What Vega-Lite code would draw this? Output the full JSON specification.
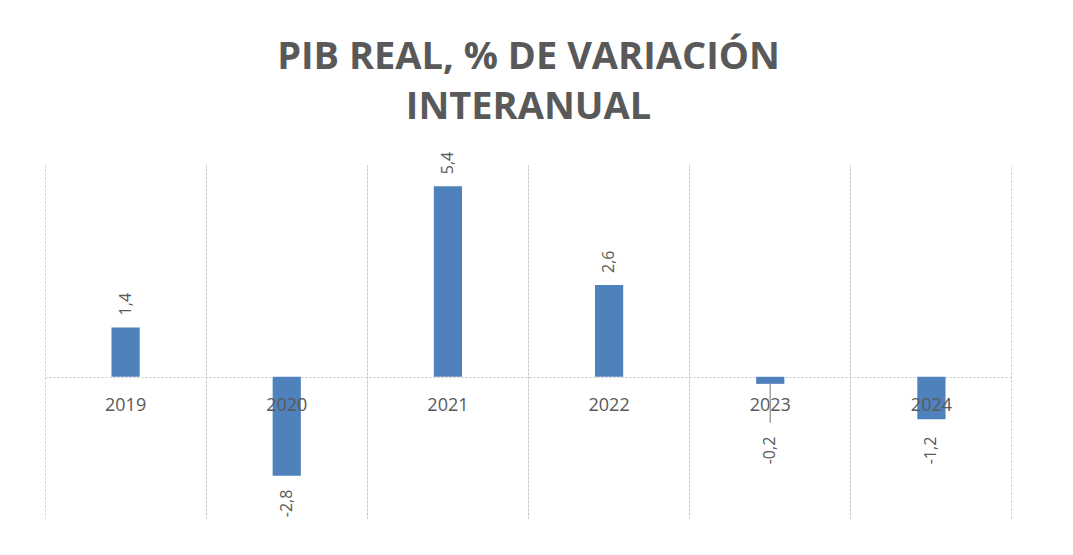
{
  "$schema": "https://vega.github.io/schema/vega-lite/v6.json",
  "width": 967,
  "height": 353,
  "padding": {"left": 45, "right": 61, "top": 38, "bottom": 37},
  "background": "white",
  "title": {
    "text": ["PIB REAL, % DE VARIACIÓN", "INTERANUAL"],
    "font": "Open Sans",
    "fontSize": 38,
    "fontWeight": "bold",
    "color": "#595959",
    "lineHeight": 50,
    "anchor": "middle",
    "offset": 25
  },
  "config": {"view": {"stroke": null}},
  "data": {
    "values": [
      {"year": "2019", "value": 1.4, "label": "1,4"},
      {"year": "2020", "value": -2.8, "label": "-2,8"},
      {"year": "2021", "value": 5.4, "label": "5,4"},
      {"year": "2022", "value": 2.6, "label": "2,6"},
      {"year": "2023", "value": -0.2, "label": "-0,2"},
      {"year": "2024", "value": -1.2, "label": "-1,2"}
    ]
  },
  "resolve": {"axis": {"x": "independent"}},
  "layer": [
    {
      "mark": {"type": "bar", "color": "#4F81BD", "width": {"band": 0.175}},
      "encoding": {
        "x": {"field": "year", "type": "nominal", "sort": null,
          "scale": {"paddingInner": 0, "paddingOuter": 0},
          "axis": {"orient": "bottom", "bandPosition": 0, "grid": true, "gridDash": [2, 2], "gridColor": "#C8C8C8", "gridWidth": 1, "labels": false, "ticks": false, "domain": false, "title": null}},
        "y": {"field": "value", "type": "quantitative",
          "scale": {"domain": [-4, 6], "nice": false, "zero": true},
          "axis": {"values": [0], "grid": true, "gridDash": [2, 2], "gridColor": "#C8C8C8", "gridWidth": 1, "labels": false, "ticks": false, "domain": false, "title": null}}
      }
    },
    {
      "mark": {"type": "text", "font": "Open Sans", "fontSize": 18, "color": "#595959", "dy": 29, "baseline": "middle"},
      "encoding": {
        "x": {"field": "year", "type": "nominal", "sort": null,
          "axis": {"orient": "top", "bandPosition": 1, "grid": true, "gridDash": [2, 2], "gridColor": "#C8C8C8", "gridWidth": 1, "labels": false, "ticks": false, "domain": false, "title": null}},
        "y": {"datum": 0, "type": "quantitative"},
        "text": {"field": "year"}
      }
    },
    {
      "transform": [{"filter": "datum.value >= 0"}],
      "mark": {"type": "text", "font": "Open Sans", "fontSize": 16, "color": "#595959", "angle": 270, "align": "left", "baseline": "middle", "dx": 12},
      "encoding": {
        "x": {"field": "year", "type": "nominal", "sort": null, "axis": null},
        "y": {"field": "value", "type": "quantitative"},
        "text": {"field": "label"}
      }
    },
    {
      "transform": [{"filter": "datum.value < 0 && datum.value > -1"}, {"calculate": "min(datum.value, -1.3)", "as": "labelY"}],
      "mark": {"type": "rule", "color": "#8C8C8C", "strokeWidth": 1.2},
      "encoding": {
        "x": {"field": "year", "type": "nominal", "sort": null, "axis": null},
        "y": {"field": "value", "type": "quantitative"},
        "y2": {"field": "labelY"}
      }
    },
    {
      "transform": [{"filter": "datum.value < 0"}, {"calculate": "min(datum.value, -1.3)", "as": "labelY"}],
      "mark": {"type": "text", "font": "Open Sans", "fontSize": 16, "color": "#595959", "angle": 270, "align": "right", "baseline": "middle", "dx": -14},
      "encoding": {
        "x": {"field": "year", "type": "nominal", "sort": null, "axis": null},
        "y": {"field": "labelY", "type": "quantitative"},
        "text": {"field": "label"}
      }
    }
  ]
}
